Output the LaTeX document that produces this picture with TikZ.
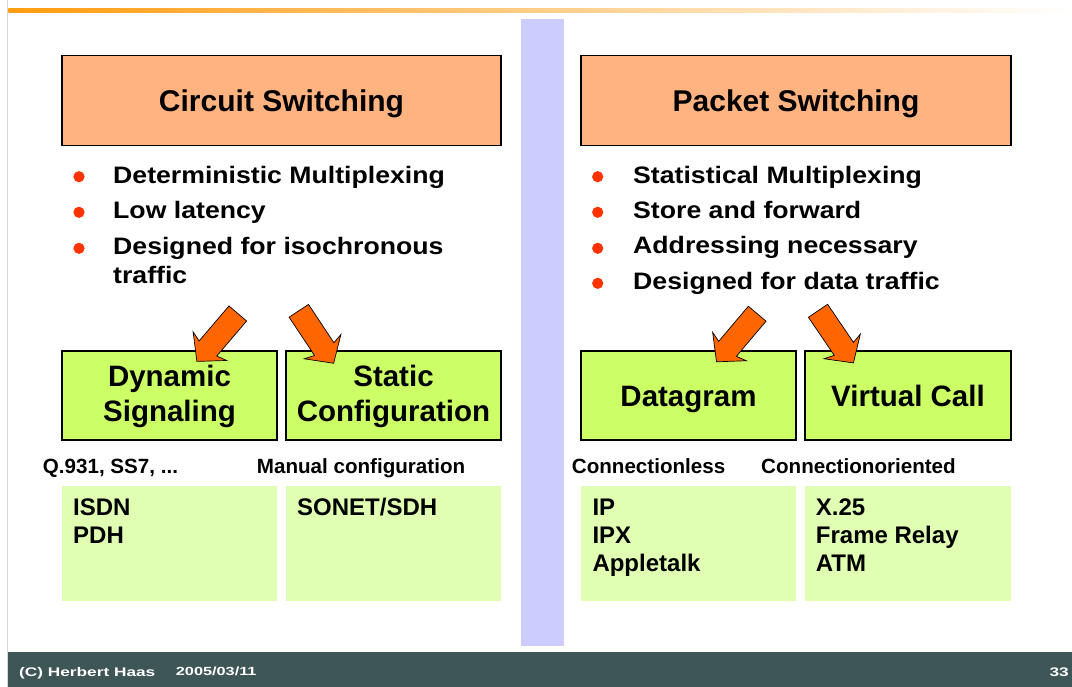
\documentclass[tikz,border=0pt]{standalone}
\usepackage{fontspec}
\setmainfont{Liberation Sans}
\newfontfamily\widefont{Liberation Sans}[FakeStretch=1.12]
\newfontfamily\footfont{Liberation Sans}[FakeStretch=1.38]

\definecolor{peach}{HTML}{FFB380}
\definecolor{lime}{HTML}{CCFF66}
\definecolor{palelime}{HTML}{E0FFB3}
\definecolor{lavender}{HTML}{CCCCFF}
\definecolor{footerteal}{HTML}{3E5656}
\definecolor{arroworange}{HTML}{FF6600}
\definecolor{dotred}{HTML}{FF3300}
\definecolor{barorange}{HTML}{FF9C10}

% block arrow: tail at #1, pointing at angle #2
\newcommand\blockarrow[2]{%
  \filldraw[fill=arroworange, draw=black, line width=0.7pt, line join=miter,
            shift={(#1)}, rotate=#2]
    (0,11.6) -- (46,11.6) -- (43,22) -- (63,0) -- (43,-22) -- (46,-11.6)
    -- (0,-11.6) -- cycle;}

\begin{document}
\begin{tikzpicture}[x=1pt,y=-1pt,
  titlebox/.style={draw=black, line width=1.5pt, fill=peach, inner sep=0pt,
    minimum height=89.6pt, font=\fontsize{30}{36}\selectfont\bfseries,
    text height=22.4pt, text depth=0pt},
  kindbox/.style={draw=black, line width=1.5pt, fill=lime, inner sep=0pt,
    minimum height=89pt, font=\fontsize{29.5}{35}\selectfont\bfseries,
    text height=22.4pt, text depth=0pt},
  kindtext/.style={anchor=base, inner sep=0pt, font=\fontsize{29.5}{35}\selectfont\bfseries},
  listbox/.style={fill=palelime, inner sep=0pt, minimum height=115pt},
  bullettext/.style={anchor=base west, inner sep=0pt, font=\widefont\bfseries\fontsize{23.8}{28}\selectfont},
  notetext/.style={anchor=base west, inner sep=0pt, font=\fontsize{20.6}{24}\selectfont\bfseries},
  itemtext/.style={anchor=base west, inner sep=0pt, font=\fontsize{24}{28}\selectfont\bfseries},
  foottext/.style={anchor=base west, inner sep=0pt, text=white, font=\footfont\bfseries\fontsize{12.5}{14}\selectfont},
  dot/.style={fill=dotred}
]
\useasboundingbox (0,0) rectangle (1072,687);
\fill[white] (0,0) rectangle (1072,687);

% page frame, header bar, divider and footer
\fill[black!15] (6.8,0) rectangle (8.3,687);
\shade[left color=barorange, right color=white] (8.3,9) rectangle (1072,12.3);
\fill[lavender] (521,19.5) rectangle (564,646);
\fill[footerteal] (8.3,652) rectangle (1072,687);

% headings
\node[titlebox, minimum width=439pt] (circuit) at (281.5,100.5) {Circuit Switching};
\node[titlebox, minimum width=430pt] (packet) at (796,100.5) {Packet Switching};

% circuit switching properties
\fill[dot] (79,176.7) circle (5.6);
\fill[dot] (79,212.3) circle (5.6);
\fill[dot] (79,248.3) circle (5.6);
\node[bullettext] (c1) at (113,183.3) {Deterministic Multiplexing};
\node[bullettext] (c2) at (113,219) {Low latency};
\node[bullettext] (c3) at (113,255) {Designed for isochronous};
\node[bullettext] (c3b) at (113,283.3) {traffic};

% packet switching properties
\fill[dot] (597.7,176.7) circle (5.6);
\fill[dot] (597.7,212.3) circle (5.6);
\fill[dot] (597.7,248.3) circle (5.6);
\fill[dot] (597.7,283.3) circle (5.6);
\node[bullettext] (p1) at (633,183.3) {Statistical Multiplexing};
\node[bullettext] (p2) at (633,218.6) {Store and forward};
\node[bullettext] (p3) at (633,254) {Addressing necessary};
\node[bullettext] (p4) at (633,289.3) {Designed for data traffic};

% switching variants
\node[kindbox, minimum width=215pt] (dynamic) at (169.5,395.5) {};
\node[kindtext] (dynamic1) at (169.5,386.7) {Dynamic};
\node[kindtext] (dynamic2) at (169.5,421.7) {Signaling};
\node[kindbox, minimum width=215pt] (static) at (393.5,395.5) {};
\node[kindtext] (static1) at (393.5,386.7) {Static};
\node[kindtext] (static2) at (393.5,421.7) {Configuration};
\node[kindbox, minimum width=215pt] (datagram) at (688.5,395.5) {Datagram};
\node[kindbox, minimum width=206pt] (vcall) at (908,395.5) {Virtual Call};

% arrows from the property lists to the variants
\coordinate (a1) at (237.8,313.5);
\coordinate (a2) at (298.8,310.8);
\coordinate (a3) at (757.2,313.7);
\coordinate (a4) at (818,310.8);
\blockarrow{a1}{229.5}
\blockarrow{a2}{-56.4}
\blockarrow{a3}{229.8}
\blockarrow{a4}{-55.8}

% notes under the variants
\node[notetext] (n1) at (42.7,473) {Q.931, SS7, ...};
\node[notetext] (n2) at (256.7,473) {Manual configuration};
\node[notetext] (n3) at (571.7,473) {Connectionless};
\node[notetext] (n4) at (761,473) {Connectionoriented};

% example technologies
\node[listbox, minimum width=215pt] (l1) at (169.5,543.5) {};
\node[listbox, minimum width=215pt] (l2) at (393.5,543.5) {};
\node[listbox, minimum width=215pt] (l3) at (688.5,543.5) {};
\node[listbox, minimum width=206pt] (l4) at (908,543.5) {};
\node[itemtext] (i11) at (73,515) {ISDN};
\node[itemtext] (i12) at (73,543) {PDH};
\node[itemtext] (i21) at (297,515) {SONET/SDH};
\node[itemtext] (i31) at (592.3,515) {IP};
\node[itemtext] (i32) at (592.3,543) {IPX};
\node[itemtext] (i33) at (592.3,571) {Appletalk};
\node[itemtext] (i41) at (815.7,515) {X.25};
\node[itemtext] (i42) at (815.7,543) {Frame Relay};
\node[itemtext] (i43) at (815.7,571) {ATM};

% footer texts
\node[foottext] (author) at (19,676.5) {(C) Herbert Haas};
\node[foottext, font=\footfont\bfseries\fontsize{11.8}{14}\selectfont] (date) at (175.7,675.3) {2005/03/11};
\node[foottext, anchor=base east] (page) at (1069,676.7) {33};
\end{tikzpicture}
\end{document}
